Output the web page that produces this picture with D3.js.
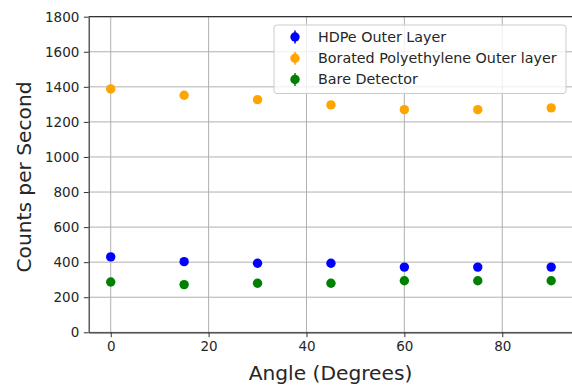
<!DOCTYPE html>
<html><head><meta charset="utf-8">
<script src="https://cdn.jsdelivr.net/npm/d3@7"></script>
<style>body{margin:0;background:#fff}svg{display:block}text{font-family:"DejaVu Sans",sans-serif}</style>
</head><body><svg id="c" width="572" height="385"></svg>
<script>
const angles = [0, 15, 30, 45, 60, 75, 90];
const hdpe = [430, 403, 394, 394, 372, 372, 372];
const borated = [1388, 1352, 1327, 1297, 1270, 1270, 1280];
const bare = [287, 272, 280, 280, 294, 294, 294];
const hdpeErr = [10, 10, 10, 10, 10, 10, 10];
const boratedErr = [18, 18, 18, 18, 18, 18, 18];
const bareErr = [8, 8, 8, 8, 8, 8, 8];
const seriesNames = ["HDPe Outer Layer", "Borated Polyethylene Outer layer", "Bare Detector"];
const seriesColors = ["#0000ff", "#ffa500", "#008000"];
const xTicks = [0, 20, 40, 60, 80];
const yTicks = [0, 200, 400, 600, 800, 1000, 1200, 1400, 1600, 1800];

const svg = d3.select("#c");
const L = 88.7, R = 573.2, T = 16.7, B = 332.3;
const x = d3.scaleLinear().domain([-4.5, 94.5]).range([L, R]);
const y = d3.scaleLinear().domain([0, 1800]).range([B, T]);

// grid
const g = svg.append("g");
g.selectAll(".vg").data(xTicks).join("line")
  .attr("x1", d => x(d)).attr("x2", d => x(d)).attr("y1", T).attr("y2", B)
  .attr("stroke", "#b0b0b0").attr("stroke-width", 1);
g.selectAll(".hg").data(yTicks).join("line")
  .attr("x1", L).attr("x2", R).attr("y1", d => y(d)).attr("y2", d => y(d))
  .attr("stroke", "#b0b0b0").attr("stroke-width", 1);

// data
const series = [
  {vals: hdpe, err: hdpeErr},
  {vals: borated, err: boratedErr},
  {vals: bare, err: bareErr}
];
series.forEach((s, i) => {
  const pts = angles.map((a, j) => ({a, v: s.vals[j], e: s.err[j]}));
  const sg = svg.append("g");
  sg.selectAll("line").data(pts).join("line")
    .attr("x1", d => x(d.a)).attr("x2", d => x(d.a))
    .attr("y1", d => y(d.v - d.e)).attr("y2", d => y(d.v + d.e))
    .attr("stroke", seriesColors[i]).attr("stroke-width", 1.5);
  sg.selectAll("circle").data(pts).join("circle")
    .attr("cx", d => x(d.a)).attr("cy", d => y(d.v)).attr("r", 4.7)
    .attr("fill", seriesColors[i]);
});

// axes
const xAxis = d3.axisBottom(x).tickValues(xTicks).tickSize(4.9).tickPadding(4.5).tickSizeOuter(0).tickFormat(d3.format("d"));
const yAxis = d3.axisLeft(y).tickValues(yTicks).tickSize(4.9).tickPadding(4.5).tickSizeOuter(0).tickFormat(d3.format("d"));
const xa = svg.append("g").attr("transform", `translate(0,${B})`).call(xAxis);
const ya = svg.append("g").attr("transform", `translate(${L},0)`).call(yAxis);
[xa, ya].forEach(a => {
  a.selectAll("text").attr("font-size", 13.5).attr("fill", "#262626").attr("font-family", "DejaVu Sans");
  a.selectAll("line").attr("stroke", "#333").attr("stroke-width", 1);
  a.select(".domain").attr("stroke", "#333").attr("stroke-width", 1.2);
});
// top spine
svg.append("line").attr("x1", L).attr("x2", R).attr("y1", T).attr("y2", T).attr("stroke", "#333").attr("stroke-width", 1.2);
svg.append("line").attr("x1", R).attr("x2", R).attr("y1", T).attr("y2", B).attr("stroke", "#333").attr("stroke-width", 1.2);

// labels
svg.append("text").attr("x", 330.5).attr("y", 380).attr("text-anchor", "middle")
  .attr("font-size", 20.2).attr("fill", "#262626").text("Angle (Degrees)");
svg.append("text").attr("transform", `translate(31,${177}) rotate(-90)`).attr("text-anchor", "middle")
  .attr("font-size", 20.2).attr("fill", "#262626").text("Counts per Second");

// legend
const lg = svg.append("g");
lg.append("rect").attr("x", 274).attr("y", 25).attr("width", 292).attr("height", 68.5)
  .attr("rx", 3).attr("fill", "#fff").attr("fill-opacity", 0.8).attr("stroke", "#cccccc").attr("stroke-width", 1);
seriesNames.forEach((n, i) => {
  const cy = 37 + i * 21.2;
  lg.append("line").attr("x1", 295).attr("x2", 295).attr("y1", cy - 6.5).attr("y2", cy + 6.5)
    .attr("stroke", seriesColors[i]).attr("stroke-width", 1.5);
  lg.append("circle").attr("cx", 295).attr("cy", cy).attr("r", 4.7).attr("fill", seriesColors[i]);
  lg.append("text").attr("x", 318).attr("y", cy + 5).attr("font-size", 14.3).attr("fill", "#262626").text(n);
});
</script></body></html>
